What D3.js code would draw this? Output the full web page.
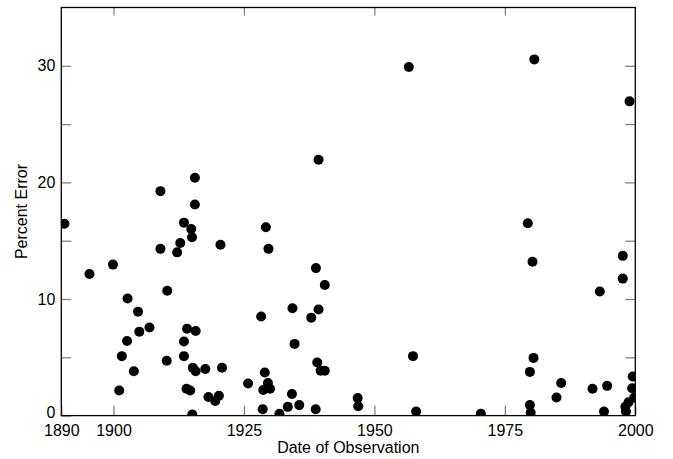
<!DOCTYPE html>
<html>
<head>
<meta charset="utf-8">
<script src="https://cdn.jsdelivr.net/npm/d3@7"></script>
<style>
  body { margin: 0; background: #fff; }
  svg { display: block; font-family: "Liberation Sans", Arial, sans-serif; }
</style>
</head>
<body>
<svg id="chart" width="673" height="459"></svg>
<script>
// observation dates (decimal years) and percent error
const years = [
  1890.6, 1895.4, 1899.9, 1901.1, 1901.6, 1902.6, 1902.7, 1903.9, 1904.7, 1904.95,
  1906.9, 1909.0, 1909.0, 1910.2, 1910.3, 1912.2, 1912.8, 1913.5, 1913.5, 1913.5,
  1914.0, 1914.1, 1914.7, 1914.9, 1915.05, 1915.1, 1915.2, 1915.6, 1915.6, 1915.75,
  1915.75, 1917.6, 1918.2, 1919.5, 1920.2, 1920.5, 1920.8, 1925.8, 1928.3, 1928.6,
  1928.7, 1929.0, 1929.2, 1929.6, 1929.7, 1930.0, 1931.8, 1933.4, 1934.2, 1934.3,
  1934.7, 1935.6, 1937.9, 1938.75, 1938.8, 1939.05, 1939.3, 1939.3, 1939.7, 1940.5,
  1940.5, 1946.8, 1946.9, 1956.6, 1957.4, 1958.0, 1970.4, 1979.4, 1979.8, 1979.8,
  1979.95, 1980.3, 1980.5, 1980.65, 1984.9, 1985.8, 1991.8, 1993.2, 1994.0, 1994.6,
  1997.6, 1997.6, 1998.1, 1998.2, 1998.7, 1998.9, 1999.4, 1999.5, 1999.8
];
const errors = [
  16.45, 12.15, 12.95, 2.15, 5.1, 6.4, 10.05, 3.8, 8.9, 7.2,
  7.55, 19.25, 14.3, 4.7, 10.7, 14.0, 14.8, 16.55, 6.35, 5.1,
  2.3, 7.45, 2.15, 16.0, 15.3, 0.1, 4.1, 20.4, 18.1, 7.25,
  3.8, 4.0, 1.6, 1.25, 1.7, 14.65, 4.1, 2.75, 8.5, 0.55,
  2.2, 3.7, 16.15, 2.8, 14.3, 2.3, 0.15, 0.75, 1.85, 9.2,
  6.15, 0.9, 8.4, 0.55, 12.65, 4.55, 21.95, 9.1, 3.85, 11.2,
  3.85, 1.5, 0.8, 29.9, 5.1, 0.35, 0.15, 16.5, 3.75, 0.9,
  0.25, 13.2, 4.95, 30.55, 1.55, 2.8, 2.3, 10.65, 0.35, 2.55,
  13.7, 11.75, 0.75, 0.35, 1.15, 26.95, 2.35, 3.35, 1.55
];
const xTicks = [1890, 1900, 1925, 1950, 1975, 2000];
const yTicks = [0, 5, 10, 15, 20, 25, 30];
const points = years.map((y, i) => ({year: y, err: errors[i]}));

const W = 673, H = 459;
const margin = {top: 7.5, right: 37.7, bottom: 43.4, left: 61.3};
const iw = W - margin.left - margin.right;
const ih = H - margin.top - margin.bottom;

const svg = d3.select("#chart");
const g = svg.append("g").attr("transform", `translate(${margin.left},${margin.top})`);

const x = d3.scaleLinear().domain([1890, 2000]).range([0, iw]);
const y = d3.scaleLinear().domain([0, 35]).range([ih, 0]);

const tickColor = "#7a7a7a";
const tickLen = 10;

// bottom axis (ticks point inward)
const xAxis = g.append("g")
    .attr("transform", `translate(0,${ih})`)
    .call(d3.axisBottom(x).tickValues(xTicks).tickFormat(d3.format("d"))
        .tickSize(-tickLen).tickSizeOuter(0).tickPadding(9));
// top mirror ticks
const xTop = g.append("g")
    .call(d3.axisTop(x).tickValues(xTicks.slice(1, -1)).tickFormat("")
        .tickSize(-tickLen * 0.8).tickSizeOuter(0));
// left axis
const yAxis = g.append("g")
    .call(d3.axisLeft(y).tickValues(yTicks).tickFormat(d => d % 10 === 0 ? d : "")
        .tickSize(-tickLen).tickSizeOuter(0).tickPadding(6));
// right mirror ticks
const yRight = g.append("g")
    .attr("transform", `translate(${iw},0)`)
    .call(d3.axisRight(y).tickValues(yTicks.slice(1)).tickFormat("")
        .tickSize(-tickLen).tickSizeOuter(0));

[xAxis, xTop, yAxis, yRight].forEach(a => {
    a.select(".domain").remove();
    a.selectAll(".tick line").attr("stroke", tickColor).attr("stroke-width", 1.2);
    a.selectAll(".tick text").attr("font-size", 16).attr("fill", "#000")
        .attr("font-family", "Liberation Sans, Arial, sans-serif");
});
yAxis.selectAll(".tick").filter(d => d === 0).select("text").attr("dy", "0.1em");

// frame
g.append("rect")
    .attr("width", iw).attr("height", ih)
    .attr("fill", "none").attr("stroke", "#000").attr("stroke-width", 1.3);

// points, clipped to the plot area
g.append("clipPath").attr("id", "plotclip")
  .append("rect").attr("width", iw).attr("height", ih);

g.append("g").attr("clip-path", "url(#plotclip)")
  .selectAll("circle")
  .data(points)
  .join("circle")
    .attr("cx", d => x(d.year))
    .attr("cy", d => y(d.err))
    .attr("r", 5)
    .attr("fill", "#000");

// axis titles
svg.append("text")
    .attr("x", margin.left + iw / 2)
    .attr("y", 453)
    .attr("text-anchor", "middle")
    .attr("font-size", 16)
    .text("Date of Observation");

svg.append("text")
    .attr("transform", `translate(27,${margin.top + ih / 2}) rotate(-90)`)
    .attr("text-anchor", "middle")
    .attr("font-size", 16)
    .text("Percent Error");
</script>
</body>
</html>
